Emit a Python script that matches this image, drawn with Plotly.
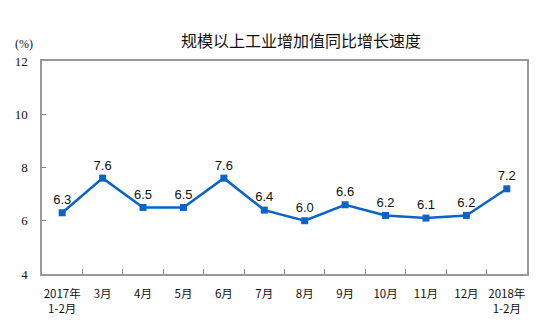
import plotly.graph_objects as go

categories = ["2017年<br>1-2月", "3月", "4月", "5月", "6月", "7月", "8月", "9月",
              "10月", "11月", "12月", "2018年<br>1-2月"]
values = [6.3, 7.6, 6.5, 6.5, 7.6, 6.4, 6.0, 6.6, 6.2, 6.1, 6.2, 7.2]
labels = [f"{v:.1f}" for v in values]
y_ticks = [4, 6, 8, 10, 12]

L, R, T, B = 42, 13, 61, 52
W, H = 540, 326
pw, ph = W - L - R, H - T - B

fig = go.Figure()
fig.add_trace(go.Scatter(
    x=categories, y=values, mode="lines+markers+text",
    text=labels, textposition="top center",
    textfont=dict(family="Liberation Sans, Arial", size=13, color="#111"),
    line=dict(color="#0a64c8", width=2.5),
    marker=dict(symbol="square", size=7, color="#0a64c8"),
    cliponaxis=False, showlegend=False,
))

fig.update_layout(
    width=W, height=H,
    margin=dict(l=L, r=R, t=T, b=B, autoexpand=False),
    plot_bgcolor="white", paper_bgcolor="white",
    annotations=[
        dict(text="规模以上工业增加值同比增长速度", xref="paper", yref="paper",
             x=(301 - L) / pw, y=(H - B - 40) / ph, xanchor="center", yanchor="middle",
             showarrow=False, font=dict(family="Noto Sans CJK SC", size=16, color="#111")),
        dict(text="(%)", xref="paper", yref="paper",
             x=(24 - L) / pw, y=(H - B - 44) / ph, xanchor="center", yanchor="middle",
             showarrow=False,
             font=dict(family="Liberation Serif, Times New Roman", size=12, color="#111")),
    ],
)

fig.update_xaxes(
    type="category", range=[-0.5, len(categories) - 0.5],
    tickson="boundaries", ticks="inside", ticklen=5,
    tickcolor="#888", showline=True, linecolor="#999", linewidth=1.5, mirror=True,
    showgrid=False, tickangle=0, automargin=False, ticklabelstandoff=8,
    tickfont=dict(family="Noto Sans CJK SC", size=11.5, color="#111"),
)
fig.update_yaxes(
    range=[4, 12], tickvals=y_ticks, ticks="inside", ticklen=4, tickcolor="#888",
    showline=True, linecolor="#999", linewidth=1.5, mirror=True, showgrid=False,
    zeroline=False, automargin=False, ticklabelstandoff=10,
    tickfont=dict(family="Liberation Serif, Times New Roman", size=13, color="#111"),
)

fig.write_html("out.html")
